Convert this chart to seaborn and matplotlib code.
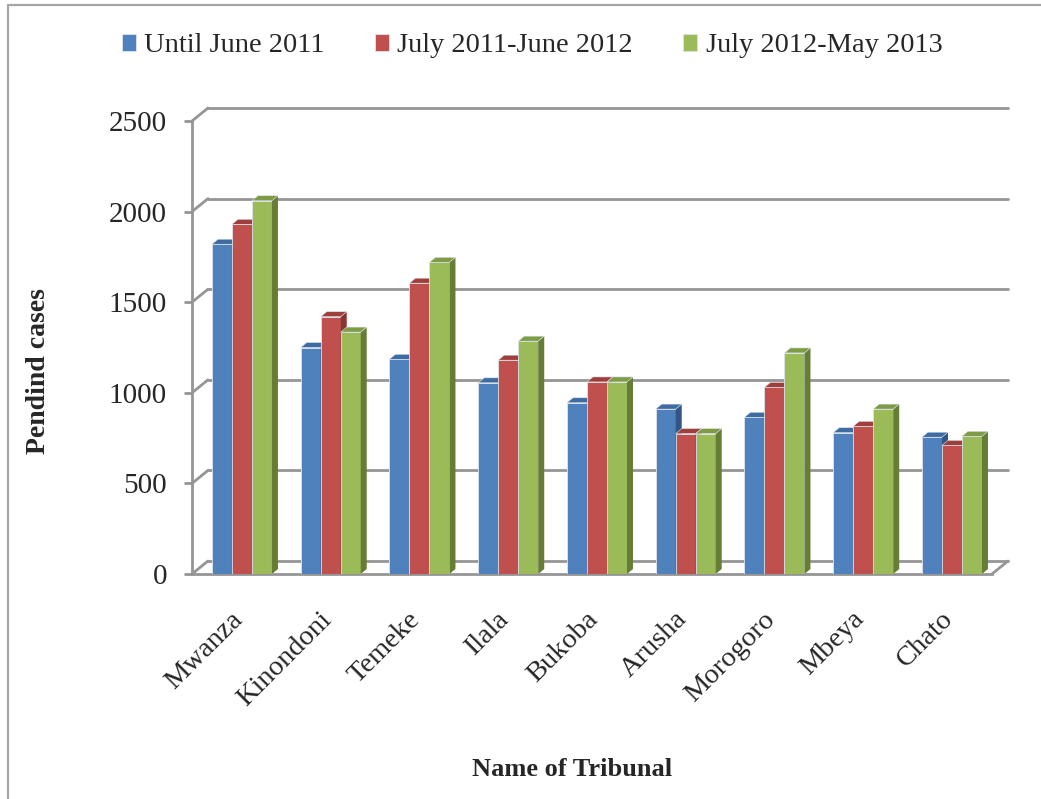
import numpy as np
import pandas as pd
import matplotlib
matplotlib.use("Agg")
import matplotlib.pyplot as plt
import seaborn as sns
from matplotlib.patches import Polygon
from matplotlib.lines import Line2D
from matplotlib.transforms import IdentityTransform, ScaledTranslation

# ---------------- data ----------------
tribunals = ["Mwanza", "Kinondoni", "Temeke", "Ilala", "Bukoba",
             "Arusha", "Morogoro", "Mbeya", "Chato"]
periods = ["Until June 2011", "July 2011-June 2012", "July 2012-May 2013"]
until_jun_2011 = [1820, 1250, 1185, 1055, 945, 910, 865, 780, 755]
jul2011_jun2012 = [1930, 1420, 1605, 1180, 1060, 775, 1030, 815, 710]
jul2012_may2013 = [2060, 1335, 1720, 1285, 1060, 775, 1220, 910, 760]
yticks = [0, 500, 1000, 1500, 2000, 2500]

front_colors = ["#4F81BD", "#C0504D", "#9BBB59"]
top_colors = ["#3D6BA2", "#A03E3B", "#7E9C45"]
side_colors = ["#2F5686", "#8A3533", "#667D36"]
grid_color = "#959595"

sns.set_theme(style="white")
plt.rcParams["font.family"] = ["Liberation Serif", "DejaVu Serif"]

df = pd.DataFrame({
    "Tribunal": tribunals * 3,
    "Period": [periods[0]] * 9 + [periods[1]] * 9 + [periods[2]] * 9,
    "Cases": until_jun_2011 + jul2011_jun2012 + jul2012_may2013,
})

W, H = 1041, 799
fig = plt.figure(figsize=(W / 100, H / 100), dpi=100)
fig.patch.set_facecolor("white")
ax = fig.add_axes([192 / W, 1 - 574 / H, 800 / W, 453 / H])
ax.set_facecolor("none")

sns.barplot(data=df, x="Tribunal", y="Cases", hue="Period", order=tribunals,
            hue_order=periods, palette=front_colors, width=0.676, gap=0,
            saturation=1, edgecolor="#dde4ec", linewidth=0.6, ax=ax)

handles = list(ax.legend_.legend_handles)
labels = [t.get_text() for t in ax.legend_.texts]
ax.legend_.remove()

ax.set_xlim(-0.563, 8.451)
ax.set_ylim(0, 2500)
ax.set_yticks(yticks)
ax.set_xlabel("")
ax.set_ylabel("")

for s in ["top", "right"]:
    ax.spines[s].set_visible(False)
for s in ["left", "bottom"]:
    ax.spines[s].set_color(grid_color)
    ax.spines[s].set_linewidth(2.0)

ax.tick_params(axis="y", length=6, width=2.0, color=grid_color, pad=12,
               labelsize=21, direction="out", left=True)
ax.tick_params(axis="x", length=0, pad=30, labelsize=20.5)
ax.set_xticks(range(len(tribunals)))
ax.set_xticklabels(tribunals, rotation=45, ha="right", va="center",
                   rotation_mode="anchor")
for lab in ax.get_xticklabels():
    lab.set_transform(lab.get_transform() + ScaledTranslation(-3 / 100, 0, fig.dpi_scale_trans))

# ---------------- pseudo 3-D walls ----------------
ident = IdentityTransform()
wdx, wdy = 16, 13
(xl, yb0) = ax.transData.transform((ax.get_xlim()[0], 0))
(xr, _) = ax.transData.transform((ax.get_xlim()[1], 0))
for v in yticks:
    _, yv = ax.transData.transform((0, v))
    ax.add_line(Line2D([xl + wdx, xr + wdx], [yv + wdy, yv + wdy], transform=ident,
                       color=grid_color, lw=2.0, zorder=1, clip_on=False))
    ax.add_line(Line2D([xl, xl + wdx], [yv, yv + wdy], transform=ident,
                       color=grid_color, lw=2.0, zorder=1, clip_on=False))
ax.add_line(Line2D([xr, xr + wdx], [yb0, yb0 + wdy], transform=ident,
                   color=grid_color, lw=2.0, zorder=1, clip_on=False))

# ---------------- pseudo 3-D bars ----------------
bdx, bdy = 6, 5
for k, cont in enumerate(ax.containers):
    for bar in cont:
        base_z = 3 + k * 0.1
        bar.set_zorder(base_z)
        x0, w, h = bar.get_x(), bar.get_width(), bar.get_height()
        X0, Yb = ax.transData.transform((x0, 0))
        X1, Yt = ax.transData.transform((x0 + w, h))
        top = Polygon([(X0, Yt), (X1, Yt), (X1 + bdx, Yt + bdy), (X0 + bdx, Yt + bdy)],
                      closed=True, transform=ident, facecolor=top_colors[k],
                      edgecolor="#dde4ec", lw=0.4, zorder=base_z + 0.05, clip_on=False)
        side = Polygon([(X1, Yb), (X1, Yt), (X1 + bdx, Yt + bdy), (X1 + bdx, Yb + bdy)],
                       closed=True, transform=ident, facecolor=side_colors[k],
                       edgecolor="none", lw=0, zorder=base_z + 0.05, clip_on=False)
        ax.add_patch(side)
        ax.add_patch(top)

# ---------------- texts ----------------
fig.text(572 / W, 1 - 770 / H, "Name of Tribunal", ha="center", va="center",
         fontsize=19, fontweight="bold")
fig.text(39 / W, 1 - 371 / H, "Pendind cases", ha="center", va="center",
         rotation=90, fontsize=20, fontweight="bold")

fig.legend(handles, labels, loc="center", bbox_to_anchor=(532 / W, 1 - 46 / H),
           ncol=3, frameon=False, fontsize=20.5, handlelength=0.5,
           handleheight=0.5, handletextpad=0.3, columnspacing=1.75,
           borderaxespad=0)

# outer frame (top and left visible)
fig.add_artist(Line2D([8 / W, 8 / W], [0, 1 - 5 / H], transform=fig.transFigure,
                      color="#a6a6a6", lw=1.6))
fig.add_artist(Line2D([8 / W, 1], [1 - 5 / H, 1 - 5 / H], transform=fig.transFigure,
                      color="#a6a6a6", lw=1.6))

fig.savefig("out.png", dpi=100, facecolor="white")
